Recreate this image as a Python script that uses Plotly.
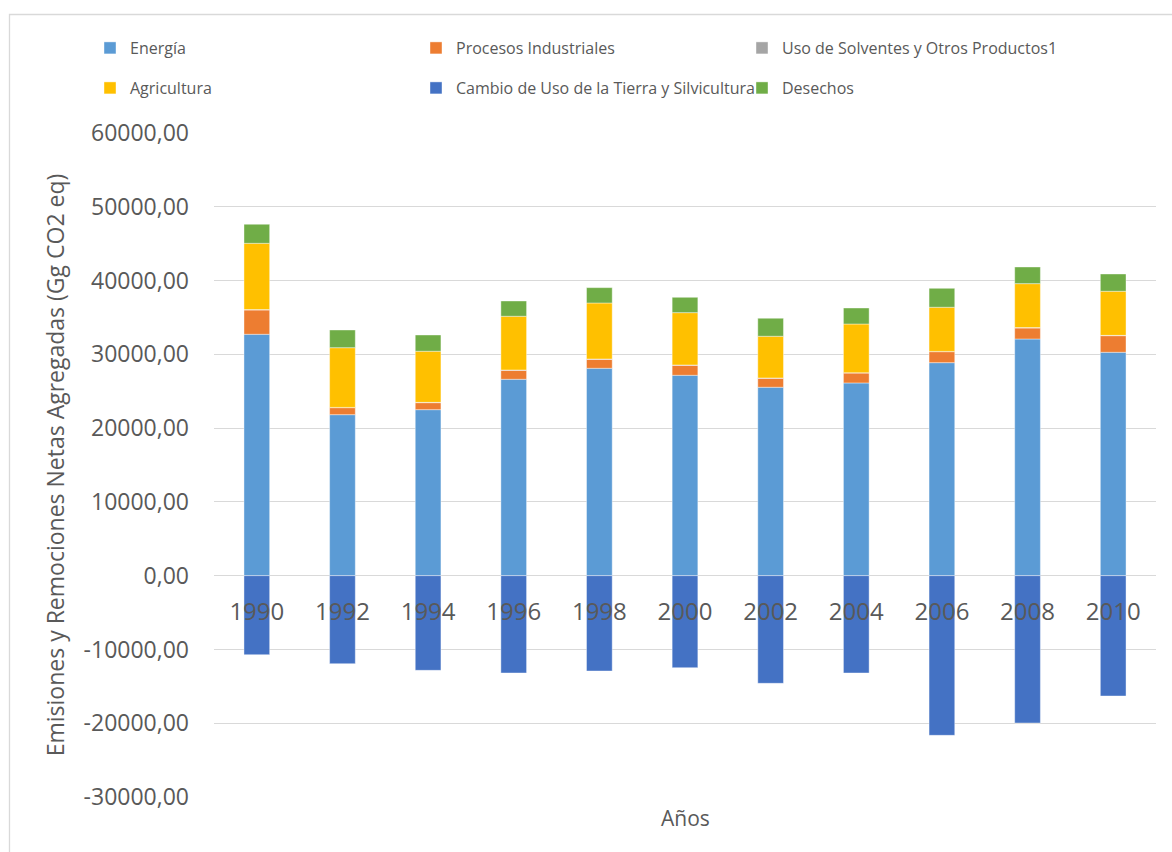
import plotly.graph_objects as go

years = ["1990", "1992", "1994", "1996", "1998", "2000", "2002", "2004", "2006", "2008", "2010"]
energia = [32720, 21820, 22500, 26620, 28110, 27160, 25540, 26120, 28870, 32080, 30280]
procesos = [3290, 950, 950, 1220, 1220, 1360, 1220, 1350, 1490, 1490, 2250]
solventes = [60, 40, 40, 40, 40, 40, 40, 40, 40, 60, 40]
agricultura = [8980, 8090, 6930, 7280, 7590, 7090, 5650, 6600, 5980, 5950, 5980]
cambio_uso = [-10710, -11930, -12830, -13190, -12920, -12470, -14590, -13190, -21640, -19970, -16310]
desechos = [2580, 2400, 2200, 2070, 2080, 2080, 2440, 2170, 2570, 2260, 2340]

y_ticks = [60000, 50000, 40000, 30000, 20000, 10000, 0, -10000, -20000, -30000]
y_tick_text = ["60000,00", "50000,00", "40000,00", "30000,00", "20000,00", "10000,00", "0,00",
               "-10000,00", "-20000,00", "-30000,00"]

FONT = "Open Sans"
TXT = "#595959"
GRID = "#d9d9d9"

series = [
    ("Energía", energia, "#5B9BD5", "legend"),
    ("Procesos Industriales", procesos, "#ED7D31", "legend"),
    ("Uso de Solventes y Otros Productos1", solventes, "#A5A5A5", "legend"),
    ("Agricultura", agricultura, "#FFC000", "legend2"),
    ("Cambio de Uso de la Tierra y Silvicultura", cambio_uso, "#4472C4", "legend2"),
    ("Desechos", desechos, "#70AD47", "legend2"),
]

fig = go.Figure()
for name, vals, color, leg in series:
    fig.add_trace(go.Bar(
        x=years, y=vals, name=name, legend=leg,
        marker=dict(color=color, line=dict(color="rgba(255,255,255,0.5)", width=0.8)),
    ))

W, H = 1172, 852
L, R, T, B = 214, 16, 133, 55
pw, ph = W - L - R, H - T - B

def px_to_paper_x(px):
    return (px - L) / pw

def px_to_paper_y(py):
    return (H - B - py) / ph

legend_common = dict(
    orientation="h",
    entrywidth=281, entrywidthmode="pixels",
    font=dict(family=FONT, size=16, color=TXT),
    xanchor="left", yanchor="middle",
    bgcolor="rgba(0,0,0,0)",
    itemclick=False, itemdoubleclick=False,
)

fig.update_layout(
    width=W, height=H,
    margin=dict(l=L, r=R, t=T, b=B),
    paper_bgcolor="white", plot_bgcolor="white",
    barmode="relative", bargap=0.7,
    font=dict(family=FONT, color=TXT),
    legend=dict(x=px_to_paper_x(90), y=px_to_paper_y(48), **legend_common),
    legend2=dict(x=px_to_paper_x(90), y=px_to_paper_y(88), **legend_common),
    xaxis=dict(
        type="category", anchor="free", position=(0 - (-30000)) / 90000,
        showgrid=False, showline=False, zeroline=False, ticks="",
        tickfont=dict(family=FONT, size=24, color=TXT),
        ticklabelstandoff=19,
    ),
    yaxis=dict(
        range=[-30000, 60000], tickvals=y_ticks, ticktext=y_tick_text,
        showgrid=True, gridcolor=GRID, gridwidth=1.3,
        zeroline=True, zerolinecolor=GRID, zerolinewidth=1.3,
        showline=False, ticks="",
        tickfont=dict(family=FONT, size=23, color=TXT),
        ticklabelstandoff=24,
        title=dict(text="Emisiones y Remociones Netas Agregadas (Gg CO2 eq)",
                   font=dict(family=FONT, size=23, color=TXT), standoff=12),
    ),
    annotations=[dict(
        text="Años", x=0.5, y=px_to_paper_y(818), xref="paper", yref="paper",
        showarrow=False, font=dict(family=FONT, size=21, color=TXT),
        xanchor="center", yanchor="middle",
    )],
    shapes=[dict(
        type="rect", xref="paper", yref="paper", layer="below",
        x0=px_to_paper_x(9.5), x1=px_to_paper_x(1185),
        y0=px_to_paper_y(870), y1=px_to_paper_y(14.5),
        line=dict(color=GRID, width=1.3), fillcolor="rgba(0,0,0,0)",
    )],
)

fig.write_html("out.html")
